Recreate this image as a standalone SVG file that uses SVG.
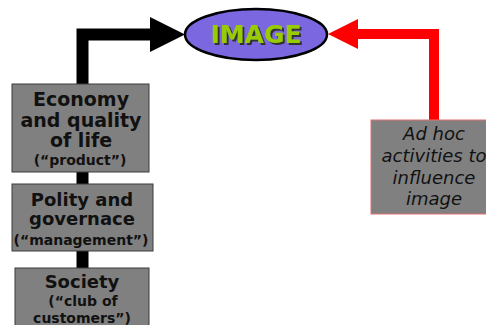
<svg xmlns="http://www.w3.org/2000/svg" width="486" height="325" viewBox="0 0 486 325">
<style>
.box{fill:#808080;stroke:#3a3a3a;stroke-width:1}
.t{font-family:"DejaVu Sans",Verdana,sans-serif;font-weight:bold;fill:#111;text-anchor:middle}
.it{font-family:"DejaVu Sans",Verdana,sans-serif;font-style:italic;fill:#111;text-anchor:middle;font-size:18px}
</style>
<defs>
<filter id="sh" x="-10%" y="-20%" width="130%" height="150%">
<feDropShadow dx="2" dy="2" stdDeviation="0" flood-color="#333" flood-opacity="1"/>
</filter>
</defs>
<rect width="486" height="325" fill="#fff"/>
<g id="connectors">
<path d="M82.5 270 V34.5 H152" fill="none" stroke="#000" stroke-width="12" stroke-linejoin="miter"/>
<polygon points="150,17 185,34.5 150,52" fill="#000"/>
<path d="M434 122 V34 H356" fill="none" stroke="#f00" stroke-width="10" stroke-linejoin="miter"/>
<polygon points="358,19 328,34 358,49" fill="#f00"/>
</g>
<g id="image">
<ellipse cx="256" cy="34.5" rx="71" ry="25.5" fill="#7b68e0" stroke="#000" stroke-width="2.5"/>
<text x="256" y="43" font-family="'DejaVu Sans',Verdana,sans-serif" font-weight="bold" font-size="25" text-anchor="middle" fill="#99cc00" filter="url(#sh)">IMAGE</text>
</g>
<g id="economy">
<rect class="box" x="12" y="84" width="137" height="88"/>
<text class="t" x="81" y="106" font-size="19">Economy</text>
<text class="t" x="81" y="127" font-size="19">and quality</text>
<text class="t" x="81" y="147" font-size="19">of life</text>
<text class="t" x="80" y="165" font-size="14">(“product”)</text>
</g>
<g id="polity">
<rect class="box" x="12" y="184" width="141" height="67"/>
<text class="t" x="82" y="206" font-size="18">Polity and</text>
<text class="t" x="82" y="225" font-size="18">governace</text>
<text class="t" x="81" y="245" font-size="14">(“management”)</text>
</g>
<g id="society">
<rect class="box" x="15" y="268" width="134" height="70"/>
<text class="t" x="82" y="288" font-size="18">Society</text>
<text class="t" x="83" y="306" font-size="14">(“club of</text>
<text class="t" x="82" y="323" font-size="14">customers”)</text>
</g>
<g id="adhoc">
<rect x="371" y="120" width="126" height="94" fill="#808080" stroke="#e07070" stroke-width="1"/>
<text class="it" x="434" y="140">Ad hoc</text>
<text class="it" x="434" y="162">activities to</text>
<text class="it" x="434" y="184">influence</text>
<text class="it" x="434" y="205">image</text>
</g>
</svg>
